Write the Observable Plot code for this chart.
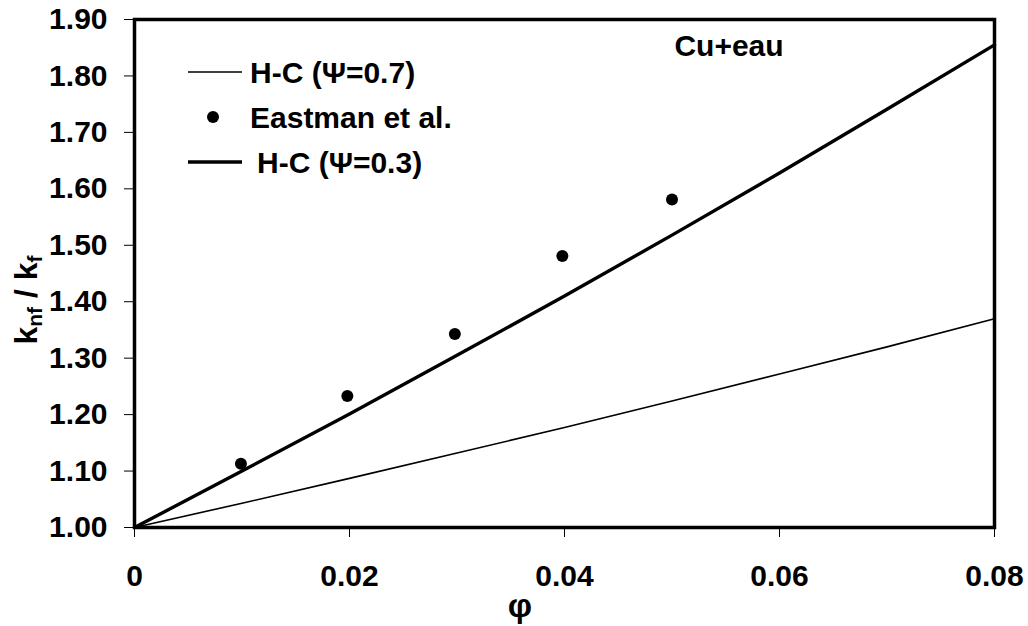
<!DOCTYPE html>
<html>
<head>
<meta charset="utf-8">
<script src="https://cdn.jsdelivr.net/npm/d3@7"></script>
<script src="https://cdn.jsdelivr.net/npm/@observablehq/plot@0.6"></script>
<style>
  html, body { margin: 0; padding: 0; background: #fff; }
  #chart { position: relative; width: 1028px; height: 626px; overflow: hidden; }
  svg { font-family: "Liberation Sans", Arial, sans-serif; font-weight: bold; }
</style>
</head>
<body>
<div id="chart"></div>
<script>
// --- data ---
const phi = [0, 0.01, 0.02, 0.03, 0.04, 0.05, 0.06, 0.07, 0.08];
const hcPsi07 = [1.000, 1.043, 1.087, 1.132, 1.177, 1.224, 1.272, 1.320, 1.370];
const hcPsi03 = [1.000, 1.100, 1.201, 1.305, 1.410, 1.518, 1.628, 1.741, 1.855];
const eastmanPhi = [0.0099, 0.0198, 0.0298, 0.0398, 0.0500];
const eastmanK = [1.113, 1.233, 1.343, 1.481, 1.581];
const xTicks = [0, 0.02, 0.04, 0.06, 0.08];
const yTicks = [1.0, 1.1, 1.2, 1.3, 1.4, 1.5, 1.6, 1.7, 1.8, 1.9];
const legendLabels = ["H-C (\u03A8=0.7)", "Eastman et al.", "H-C (\u03A8=0.3)"];
const annotation = "Cu+eau";
const xLabel = "\u03C6";

const line07 = phi.map((p, i) => ({phi: p, k: hcPsi07[i]}));
const line03 = phi.map((p, i) => ({phi: p, k: hcPsi03[i]}));
const eastman = eastmanPhi.map((p, i) => ({phi: p, k: eastmanK[i]}));

const font = "'Liberation Sans', Arial, sans-serif";

const chart = Plot.plot({
  width: 1028,
  height: 626,
  marginLeft: 134,
  marginRight: 34,
  marginTop: 19,
  marginBottom: 99,
  style: {fontFamily: font, fontWeight: "bold", color: "black", background: "white", overflow: "hidden"},
  x: {domain: [0, 0.08]},
  y: {domain: [1.0, 1.9]},
  marks: [
    Plot.axisX({ticks: xTicks, tickFormat: d => d === 0 ? "0" : d.toFixed(2), tickSize: 10, tickPadding: 27,
      fontSize: 30, fontWeight: "bold", label: null, strokeWidth: 1}),
    Plot.axisY({ticks: yTicks, tickFormat: d => d.toFixed(2), tickSize: 10, tickPadding: 17,
      fontSize: 30, fontWeight: "bold", label: null, strokeWidth: 1}),
    Plot.line(line07, {x: "phi", y: "k", stroke: "black", strokeWidth: 1.6}),
    Plot.line(line03, {x: "phi", y: "k", stroke: "black", strokeWidth: 3.4}),
    Plot.dot(eastman, {x: "phi", y: "k", r: 6, fill: "black", stroke: "none"}),
    Plot.frame({stroke: "black", strokeWidth: 3.5})
  ]
});
document.getElementById("chart").appendChild(chart);

// --- decorations: legend, annotation, axis titles ---
const svg = d3.select(chart);
const g = svg.append("g").attr("font-family", font).attr("font-weight", "bold")
  .attr("fill", "black").attr("text-anchor", "start");

// legend
const leg = [
  {type: "line", w: 1.6, y: 72, tx: 250},
  {type: "dot", y: 117, tx: 250},
  {type: "line", w: 3.4, y: 162, tx: 257}
];
leg.forEach((d, i) => {
  if (d.type === "line") {
    g.append("line").attr("x1", 188).attr("x2", 242).attr("y1", d.y).attr("y2", d.y)
      .attr("stroke", "black").attr("stroke-width", d.w);
  } else {
    g.append("circle").attr("cx", 213).attr("cy", d.y).attr("r", 6).attr("fill", "black");
  }
  g.append("text").attr("x", d.tx).attr("y", d.y).attr("dy", "0.36em").attr("text-anchor", "start")
    .attr("font-size", 30).text(legendLabels[i]);
});

// annotation
g.append("text").attr("x", 729).attr("y", 45).attr("dy", "0.36em").attr("text-anchor", "middle")
  .attr("font-size", 30).text(annotation);

// x axis title
g.append("text").attr("x", 520).attr("y", 605).attr("dy", "0.35em").attr("text-anchor", "middle")
  .attr("font-size", 34).text(xLabel);

// y axis title with subscripts
const yt = g.append("text").attr("transform", "translate(37,300) rotate(-90)")
  .attr("text-anchor", "middle").attr("font-size", 32);
yt.append("tspan").text("k");
yt.append("tspan").attr("font-size", 21).attr("dy", 5).text("nf");
yt.append("tspan").attr("dy", -5).text(" / k");
yt.append("tspan").attr("font-size", 21).attr("dy", 5).text("f");
</script>
</body>
</html>
